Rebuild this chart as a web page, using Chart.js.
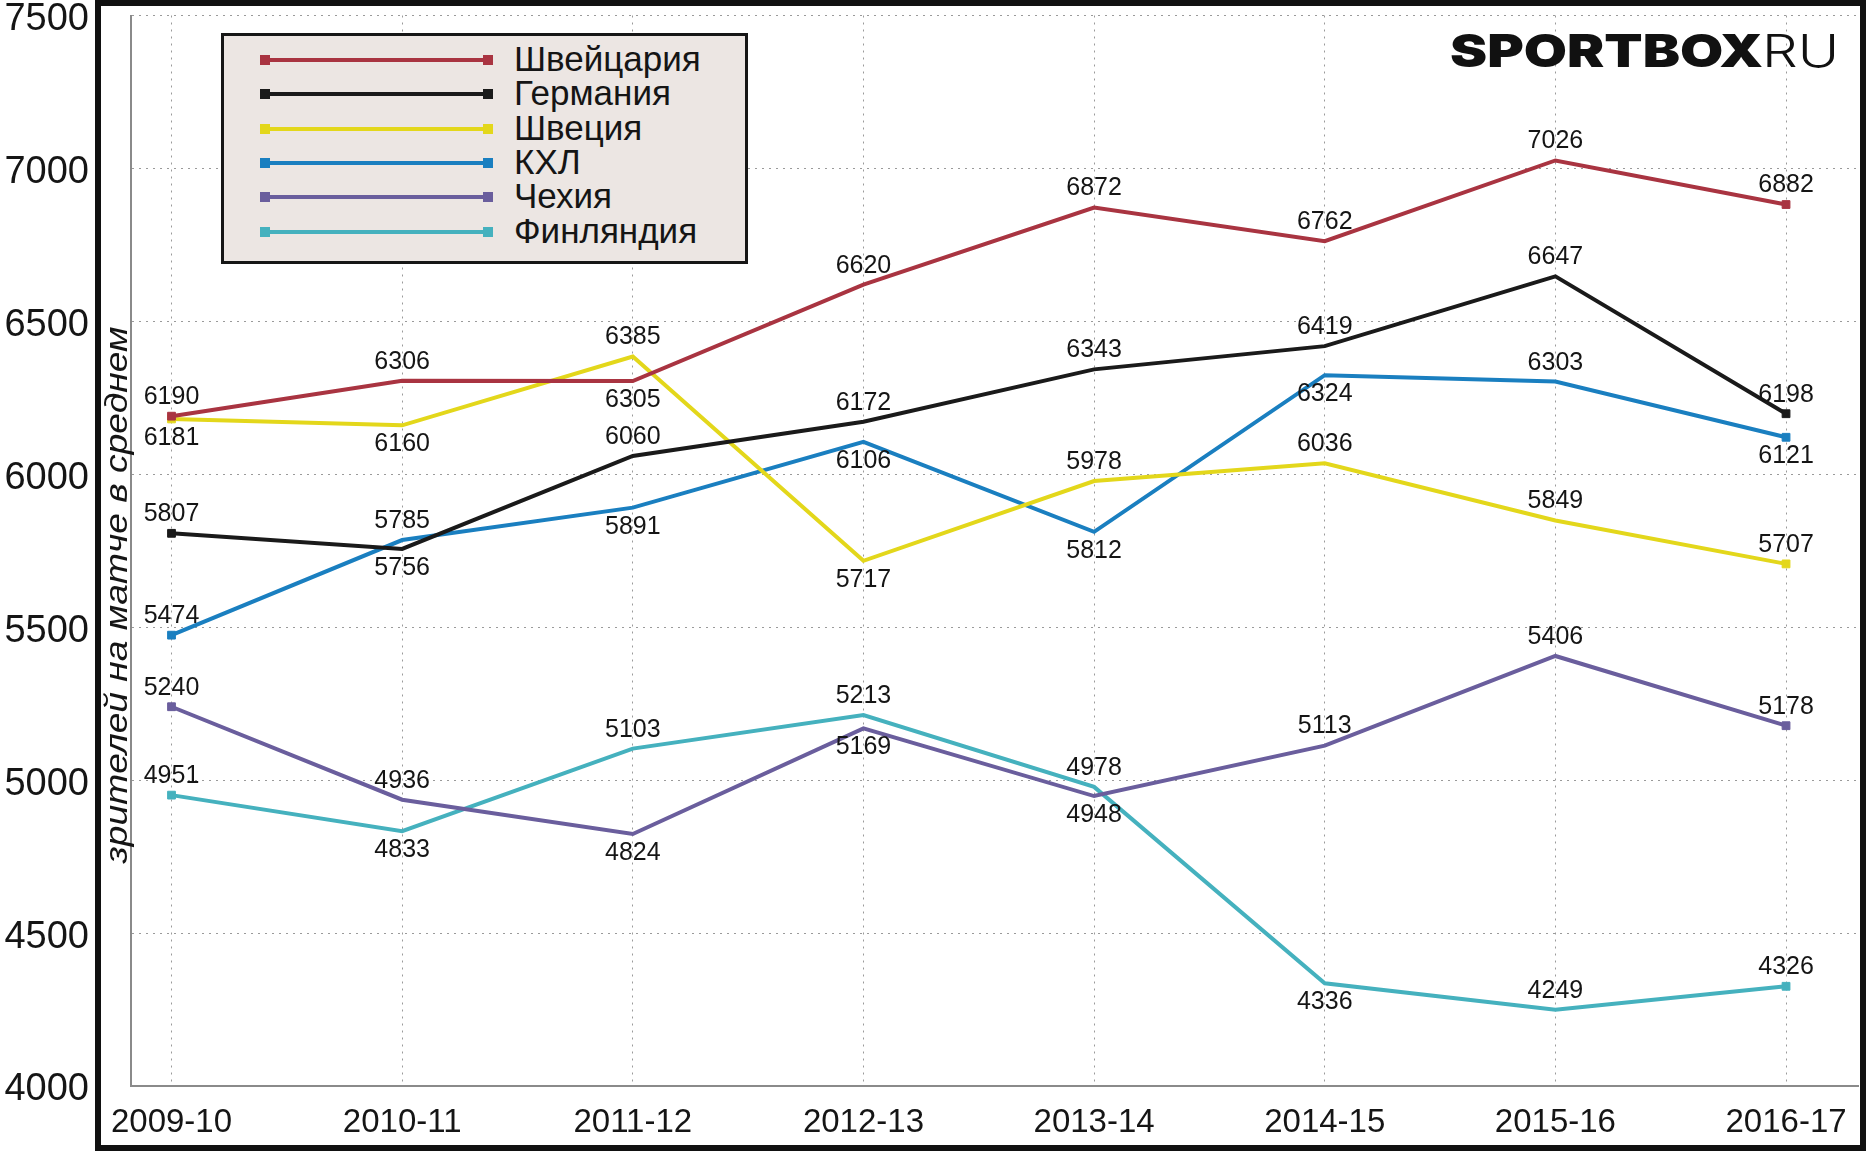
<!DOCTYPE html>
<html>
<head>
<meta charset="utf-8">
<script src="https://cdn.jsdelivr.net/npm/chart.js@4.4.1/dist/chart.umd.min.js"></script>
<style>
html,body{margin:0;padding:0;background:#fff;}
#wrap{position:relative;width:1867px;height:1152px;overflow:hidden;}
#c{position:absolute;left:0;top:0;}
#legend{position:absolute;left:221px;top:33px;width:527px;height:231px;background:#ECE6E3;border:3px solid #161616;box-sizing:border-box;}
.row{position:absolute;left:0;height:34px;width:100%;}
.sample{position:absolute;left:38px;top:15px;width:229px;height:4px;}
.sq{position:absolute;top:-3px;width:10px;height:10px;}
.lab{position:absolute;left:290px;top:-1px;line-height:34px;font-family:"Liberation Sans",Arial,sans-serif;font-size:35px;color:#151515;white-space:nowrap;}
#logo{position:absolute;left:1450px;top:28px;white-space:nowrap;color:#111;line-height:1;}
#logo .b{font-family:Inter,"Liberation Sans",sans-serif;font-weight:900;font-size:45px;letter-spacing:0px;display:inline-block;transform:scaleX(1.24);transform-origin:left center;}
#logo .r{font-family:Inter,"Liberation Sans",sans-serif;font-weight:300;font-size:45px;position:absolute;left:312px;top:0;display:inline-block;transform:scaleX(1.25);transform-origin:left center;}
</style>
</head>
<body>
<div id="wrap">
<canvas id="c" width="1867" height="1152"></canvas>
<div id="legend"></div>
<div id="logo"><span class="b">SPORTBOX</span><span class="r">RU</span></div>
</div>
<script>
const categories = ['2009-10','2010-11','2011-12','2012-13','2013-14','2014-15','2015-16','2016-17'];
const yTicks = [4000,4500,5000,5500,6000,6500,7000,7500];
const switzerland = [6190,6306,6305,6620,6872,6762,7026,6882];
const germany     = [5807,5756,6060,6172,6343,6419,6647,6198];
const sweden      = [6181,6160,6385,5717,5978,6036,5849,5707];
const khl         = [5474,5785,5891,6106,5812,6324,6303,6121];
const czech       = [5240,4936,4824,5169,4948,5113,5406,5178];
const finland     = [4951,4833,5103,5213,4978,4336,4249,4326];
const yTitle = 'зрителей на матче в среднем';

// label placement per point: a = above, b = below
const placeSw = ['a','a','b','a','a','a','a','a'];
const placeGe = ['a','b','a','a','a','a','a','a'];
const placeSe = ['b','b','a','b','a','a','a','a'];
const placeKhl= ['a','a','b','b','b','b','a','b'];
const placeCz = ['a','a','b','b','b','a','a','a'];
const placeFi = ['a','b','a','a','a','b','a','a'];

const FONT = '"Liberation Sans", Arial, sans-serif';

function mk(label, values, color, place){
  return {
    label, borderColor: color, backgroundColor: color,
    data: values.map((v,i)=>({x:i,y:v})),
    labelPlace: place,
    borderWidth: 4,
    pointStyle: 'rect',
    pointRadius: ctx => (ctx.dataIndex===0 || ctx.dataIndex===values.length-1) ? 5.5 : 0,
    pointBorderWidth: 1,
    pointHoverRadius: 0,
    tension: 0
  };
}

const datasets = [
  mk('Швейцария', switzerland, '#A93441', placeSw),
  mk('Германия', germany, '#1A1A1A', placeGe),
  mk('Швеция', sweden, '#E3D71B', placeSe),
  mk('КХЛ', khl, '#1A7FC0', placeKhl),
  mk('Чехия', czech, '#6A5E9D', placeCz),
  mk('Финляндия', finland, '#45B1BE', placeFi)
];

const framePlugin = {
  id:'frame',
  beforeDraw(chart){
    const c=chart.ctx; c.save(); c.fillStyle='#fff'; c.fillRect(0,0,chart.width,chart.height); c.restore();
  },
  afterDraw(chart){
    const c=chart.ctx; c.save();
    c.strokeStyle='#111'; c.lineWidth=6;
    c.strokeRect(98,3,1863-98,1148-3);
    c.restore();
  }
};

const titlePlugin = {
  id:'ytitle',
  afterDraw(chart){
    const c=chart.ctx; c.save();
    c.translate(118, 595);
    c.rotate(-Math.PI/2);
    c.scale(1.2,1);
    c.font = 'italic 31px ' + FONT;
    c.fillStyle='#151515'; c.textAlign='center'; c.textBaseline='middle';
    c.fillText(yTitle, 0, 0);
    c.restore();
  }
};

const labelPlugin = {
  id:'pointLabels',
  afterDatasetsDraw(chart){
    const c=chart.ctx; c.save();
    c.font='25px '+FONT; c.fillStyle='#151515'; c.textAlign='center'; c.textBaseline='middle';
    chart.data.datasets.forEach((ds,di)=>{
      const meta=chart.getDatasetMeta(di);
      meta.data.forEach((pt,i)=>{
        const above = ds.labelPlace[i]==='a';
        c.fillText(String(ds.data[i].y), pt.x, pt.y + (above ? -19 : 19));
      });
    });
    c.restore();
  }
};

const chart = new Chart(document.getElementById('c'), {
  type:'line',
  data:{datasets},
  plugins:[framePlugin, titlePlugin, labelPlugin],
  options:{
    responsive:false, animation:false, events:[],
    layout:{padding:{top:15.5,right:9,left:0,bottom:0}, autoPadding:false},
    plugins:{legend:{display:false}, tooltip:{enabled:false}},
    scales:{
      x:{
        type:'linear', min:-0.1756, max:7.312,
        afterBuildTicks: s => { s.ticks = categories.map((c,i)=>({value:i})); },
        afterFit: s => { s.height = 66; s.paddingLeft = 0; s.paddingRight = 0; },
        ticks:{ callback: v => categories[v] ?? '', font:{size:33, family:FONT}, color:'#151515', padding:17, autoSkip:false, maxRotation:0 },
        grid:{ color:'#9a9a9a', lineWidth:1, drawTicks:false },
        border:{ display:true, color:'#8a8a8a', width:2, dash:[2,5] }
      },
      y:{
        min:4000, max:7500,
        afterBuildTicks: s => { s.ticks = yTicks.map(v=>({value:v})); },
        afterFit: s => { s.width = 131; s.paddingTop = 0; s.paddingBottom = 0; },
        ticks:{ callback: v => String(v), font:{size:38, family:FONT}, color:'#151515', padding:42, labelOffset:4 },
        grid:{ color:'#9a9a9a', lineWidth:1, drawTicks:false },
        border:{ display:true, color:'#8a8a8a', width:2, dash:[2,5] }
      }
    }
  }
});

// HTML legend built from chart datasets
const lg = document.getElementById('legend');
chart.data.datasets.forEach((ds,i)=>{
  const row = document.createElement('div');
  row.className='row';
  row.style.top = (7 + i*34.3) + 'px';
  row.innerHTML = '<div class="sample" style="background:'+ds.borderColor+'">'+
    '<div class="sq" style="left:-2px;background:'+ds.borderColor+'"></div>'+
    '<div class="sq" style="right:-2px;background:'+ds.borderColor+'"></div></div>'+
    '<div class="lab">'+ds.label+'</div>';
  lg.appendChild(row);
});
</script>
</body>
</html>
